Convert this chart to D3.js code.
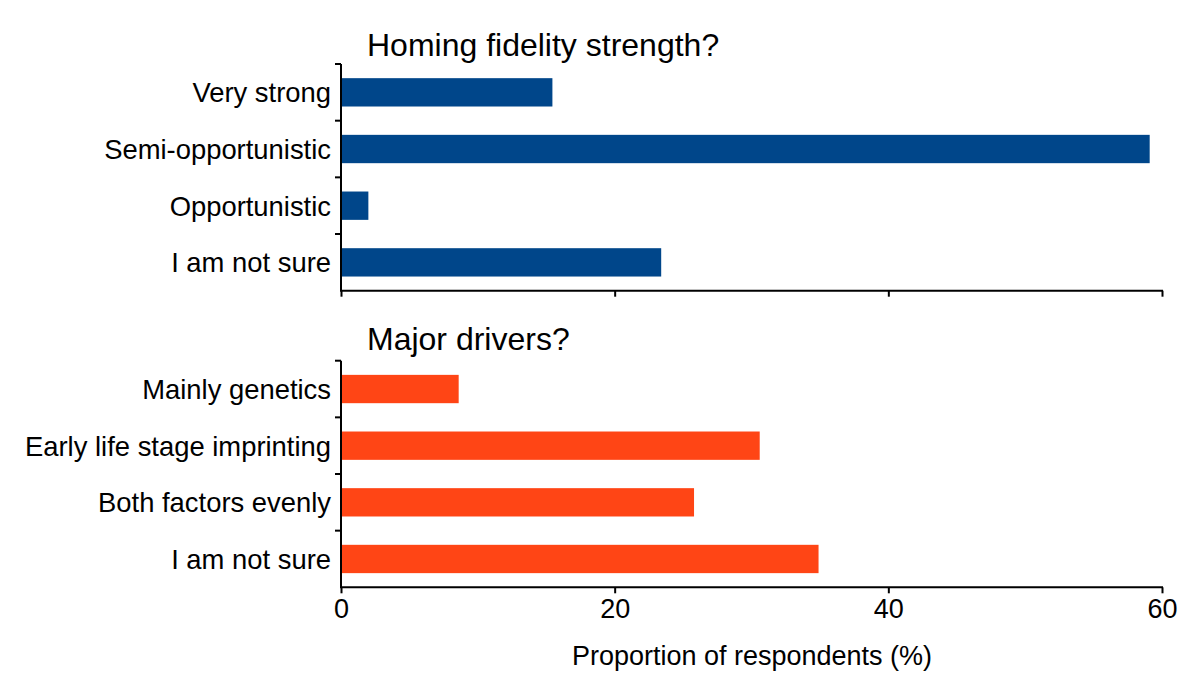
<!DOCTYPE html>
<html>
<head>
<meta charset="utf-8">
<script src="https://cdn.jsdelivr.net/npm/d3@7/dist/d3.min.js"></script>
<style>
html,body{margin:0;padding:0;background:#fff;}
svg{display:block;font-family:"Liberation Sans",Arial,sans-serif;}
</style>
</head>
<body>
<svg id="chart" width="1200" height="692"></svg>
<script>
const fidelityCategories = ["Very strong", "Semi-opportunistic", "Opportunistic", "I am not sure"];
const fidelityValues = [15.45, 59.1, 2.0, 23.4];
const driverCategories = ["Mainly genetics", "Early life stage imprinting", "Both factors evenly", "I am not sure"];
const driverValues = [8.6, 30.6, 25.8, 34.9];
const xTicks = [0, 20, 40, 60];
const panelTitles = ["Homing fidelity strength?", "Major drivers?"];
const xAxisTitle = "Proportion of respondents (%)";

const svg = d3.select("#chart");
const x = d3.scaleLinear().domain([0, 60]).range([341, 1162]);

const panels = [
  {cats: fidelityCategories, vals: fidelityValues, color: "#00468A", top: 64, bottom: 290.7, title: panelTitles[0], titleY: 56, labels: false},
  {cats: driverCategories, vals: driverValues, color: "#FF4515", top: 360.7, bottom: 587.3, title: panelTitles[1], titleY: 350, labels: true}
];

panels.forEach(p => {
  const y = d3.scaleBand().domain(p.cats).range([p.top, p.bottom]).paddingInner(0.5).paddingOuter(0.25);
  const g = svg.append("g");
  g.selectAll("rect").data(p.vals).join("rect")
    .attr("x", x(0))
    .attr("y", (d, i) => y(p.cats[i]))
    .attr("width", d => x(d) - x(0))
    .attr("height", y.bandwidth())
    .attr("fill", p.color);

  g.append("line").attr("x1", x(0)).attr("x2", x(0)).attr("y1", p.top).attr("y2", p.bottom)
    .attr("stroke", "#000").attr("stroke-width", 2);
  const step = y.step();
  d3.range(p.cats.length).forEach(i => {
    const ty = p.top + i * step;
    g.append("line").attr("x1", x(0) - 6).attr("x2", x(0)).attr("y1", ty).attr("y2", ty)
      .attr("stroke", "#000").attr("stroke-width", 2);
  });
  g.selectAll("text.cat").data(p.cats).join("text").attr("class", "cat")
    .attr("x", 331)
    .attr("y", d => y(d) + y.bandwidth() / 2)
    .attr("dy", "0.36em")
    .attr("text-anchor", "end")
    .attr("font-size", 27.4)
    .attr("fill", "#000")
    .text(d => d);

  const xa = d3.axisBottom(x).tickValues(xTicks).tickSize(6).tickSizeOuter(0)
    .tickFormat(p.labels ? d3.format("d") : () => "");
  const ax = g.append("g").attr("transform", `translate(0,${p.bottom})`).call(xa);
  ax.select(".domain").attr("stroke", "#000").attr("stroke-width", 2).attr("d", `M${x(0) - 1},0H${x(60) + 1}`);
  ax.selectAll(".tick line").attr("stroke", "#000").attr("stroke-width", 2);
  ax.selectAll(".tick text").attr("font-size", 27).attr("font-family", "Liberation Sans, Arial, sans-serif")
    .attr("fill", "#000").attr("y", 12).attr("dy", "0.71em");

  svg.append("text").attr("x", 367).attr("y", p.titleY).attr("font-size", 32).attr("fill", "#000").text(p.title);
});

svg.append("text").attr("x", 752).attr("y", 665).attr("text-anchor", "middle")
  .attr("font-size", 27).attr("fill", "#000").text(xAxisTitle);
</script>
</body>
</html>
